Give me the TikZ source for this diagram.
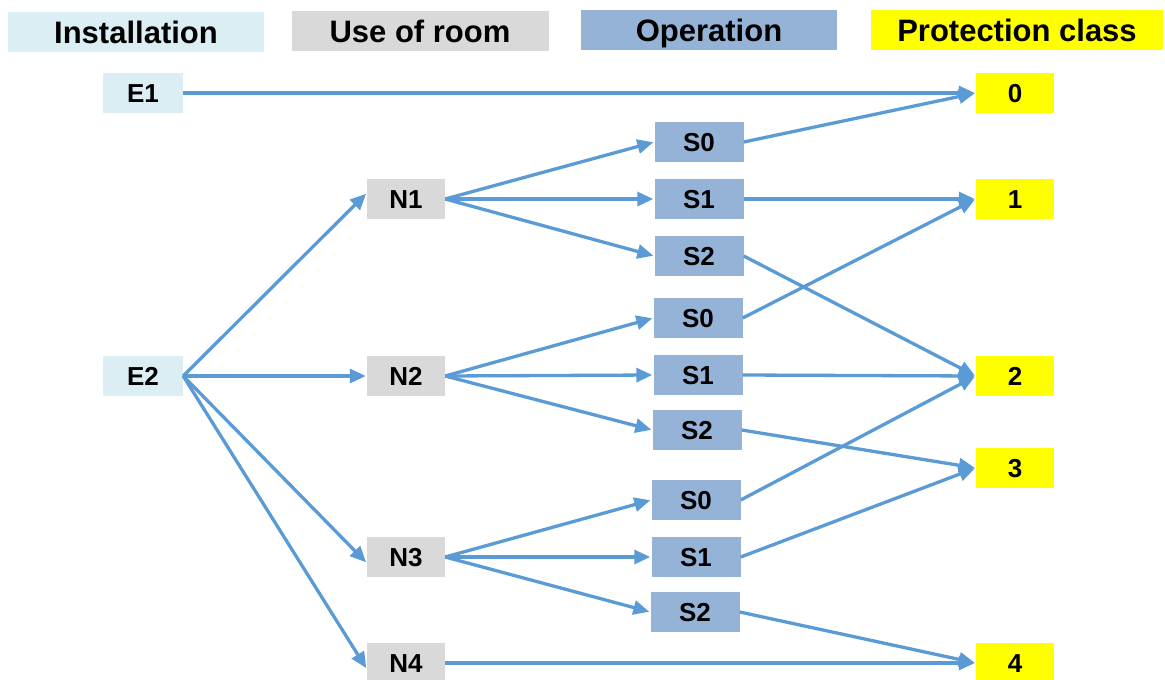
\documentclass[tikz,border=0pt]{standalone}
\usepackage{fontspec}
\setmainfont{Liberation Sans}
\usetikzlibrary{arrows.meta}

\definecolor{instc}{HTML}{DAEEF3}
\definecolor{roomc}{HTML}{D9D9D9}
\definecolor{opc}{HTML}{95B3D7}
\definecolor{protc}{HTML}{FFFF00}
\definecolor{linec}{HTML}{5B9BD5}

\begin{document}
\begin{tikzpicture}[
  x=1pt, y=-1pt,
  font=\bfseries,
  box/.style={inner sep=0pt, minimum height=40pt, text height=20pt, text depth=1.4pt,
    font=\fontsize{26}{28}\selectfont\bfseries},
  head/.style={inner sep=0pt, minimum height=40pt, text height=24pt, text depth=2pt,
    font=\fontsize{31}{33}\selectfont\bfseries},
  inst/.style={box, fill=instc, minimum width=80pt},
  room/.style={box, fill=roomc, minimum width=78pt},
  op/.style={box, fill=opc, minimum width=89pt},
  prot/.style={box, fill=protc, minimum width=78pt},
  arr/.style={-{Triangle[length=16pt, width=14pt]}, line width=3.3pt, linec, shorten >=1pt}
]
\clip (0,0) rectangle (1165,680);
\useasboundingbox (0,0) rectangle (1165,680);

% column headers
\node[head, fill=instc, minimum width=256pt] (hinst) at (136,32) {Installation};
\node[head, fill=roomc, minimum width=257pt] (hroom) at (420,31) {Use of room};
\node[head, fill=opc,   minimum width=256pt] (hop)   at (709,30) {Operation};
\node[head, fill=protc, minimum width=292pt] (hprot) at (1017,30) {Protection class};

% installation
\node[inst] (e1) at (143,93)  {E1};
\node[inst] (e2) at (143,376) {E2};

% use of room
\node[room] (n1) at (406,199) {N1};
\node[room] (n2) at (406,376) {N2};
\node[room] (n3) at (406,557) {N3};
\node[room] (n4) at (406,663) {N4};

% operation
\node[op] (s10) at (699,142) {S0};
\node[op] (s11) at (699,199) {S1};
\node[op] (s12) at (699,256) {S2};
\node[op] (s20) at (698,318) {S0};
\node[op] (s21) at (698,375) {S1};
\node[op] (s22) at (697,430) {S2};
\node[op] (s30) at (696,500) {S0};
\node[op] (s31) at (696,557) {S1};
\node[op] (s32) at (695,612) {S2};

% protection class
\node[prot] (p0) at (1015,93)  {0};
\node[prot] (p1) at (1015,199) {1};
\node[prot] (p2) at (1015,376) {2};
\node[prot] (p3) at (1015,468) {3};
\node[prot] (p4) at (1015,663) {4};

\draw[arr] (e1.east)--(p0.west);
\draw[arr] (e2.east)--([yshift=6pt]n1.west);
\draw[arr] (e2.east)--(n2.west);
\draw[arr] (e2.east)--([yshift=-6pt]n3.west);
\draw[arr] (e2.east)--([yshift=-6pt]n4.west);

\draw[arr] (n1.east)--(s10.west);  \draw[arr] (n1.east)--(s11.west);  \draw[arr] (n1.east)--(s12.west);
\draw[arr] (n2.east)--(s20.west);  \draw[arr] (n2.east)--(s21.west);  \draw[arr] (n2.east)--(s22.west);
\draw[arr] (n3.east)--(s30.west);  \draw[arr] (n3.east)--(s31.west);  \draw[arr] (n3.east)--(s32.west);
\draw[arr] (n4.east)--(p4.west);

\draw[arr] (s10.east)--(p0.west);  \draw[arr] (s11.east)--(p1.west);  \draw[arr] (s12.east)--(p2.west);
\draw[arr] (s20.east)--(p1.west);  \draw[arr] (s21.east)--(p2.west);  \draw[arr] (s22.east)--(p3.west);
\draw[arr] (s30.east)--(p2.west);  \draw[arr] (s31.east)--(p3.west);  \draw[arr] (s32.east)--(p4.west);
\end{tikzpicture}
\end{document}
